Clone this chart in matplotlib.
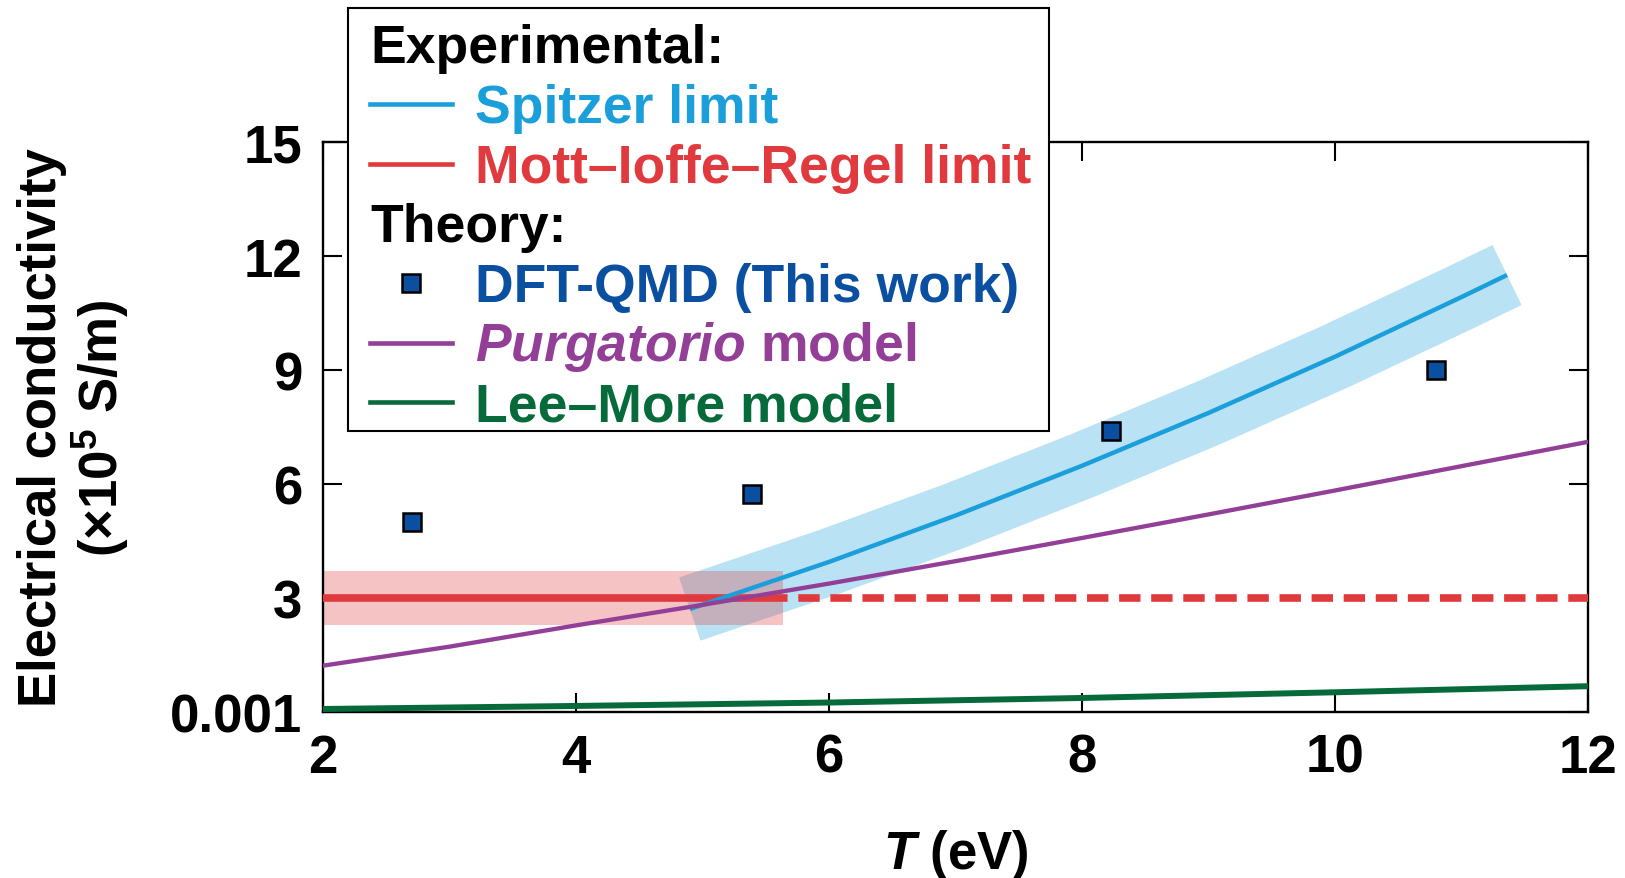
import matplotlib
matplotlib.use("Agg")
import matplotlib.pyplot as plt
from matplotlib.lines import Line2D
from matplotlib.patches import Rectangle

# Conductivity data, sigma in units of 1e5 S/m, T in eV
dft_T = [2.70, 5.39, 8.23, 10.80]
dft_sigma = [4.99, 5.74, 7.39, 9.01]

spitzer_T = [4.90, 6.0, 7.0, 8.0, 9.0, 10.0, 11.0, 11.36]
spitzer_sigma = [2.71, 3.95, 5.17, 6.48, 7.87, 9.35, 10.92, 11.5]

mir_sigma = 3.0
mir_lo, mir_hi = 2.3, 3.7
mir_T_meas = [2.0, 5.64]
mir_T_ext = [5.64, 12.0]

purg_T = [2, 3, 4, 5, 6, 7, 8, 9, 10, 11, 12]
purg_sigma = [1.22, 1.72, 2.28, 2.82, 3.38, 3.97, 4.58, 5.20, 5.83, 6.47, 7.11]

lee_T = [2, 4, 6, 8, 10, 12]
lee_sigma = [0.08, 0.16, 0.25, 0.37, 0.52, 0.68]

yticks = [0.001, 3, 6, 9, 12, 15]
ytick_labels = ["0.001", "3", "6", "9", "12", "15"]
xticks = [2, 4, 6, 8, 10, 12]

c_spitzer = "#1a9fdb"
c_mir = "#e03a3e"
c_dft = "#0a4fa0"
c_purg = "#933f97"
c_lee = "#066a3b"

plt.rcParams["font.family"] = ["Liberation Sans", "DejaVu Sans"]
plt.rcParams["font.weight"] = "bold"
plt.rcParams["axes.labelweight"] = "bold"
plt.rcParams["mathtext.fontset"] = "custom"
plt.rcParams["mathtext.rm"] = "Liberation Sans:bold"
plt.rcParams["mathtext.it"] = "Liberation Sans:italic:bold"
plt.rcParams["mathtext.bf"] = "Liberation Sans:bold"

W, H = 1625, 879
fig = plt.figure(figsize=(W / 100, H / 100), dpi=100)
ax = fig.add_axes([323 / W, 1 - 713 / H, 1265 / W, 570 / H])

# uncertainty bands
ax.plot(spitzer_T, spitzer_sigma, color=c_spitzer, lw=48, alpha=0.3,
        solid_capstyle="butt", solid_joinstyle="round", zorder=1)
ax.fill_between(mir_T_meas, mir_lo, mir_hi, color=c_mir, alpha=0.3, lw=0, zorder=2)

# Mott-Ioffe-Regel limit: measured range solid, extrapolation dashed
ax.plot(mir_T_meas, [mir_sigma] * 2, color=c_mir, lw=5.5, solid_capstyle="butt", zorder=3)
ax.plot(mir_T_ext, [mir_sigma] * 2, color=c_mir, lw=5.5, ls=(2.2, (2.8, 1.4)),
        dash_capstyle="butt", zorder=3)

ax.plot(spitzer_T, spitzer_sigma, color=c_spitzer, lw=3.2, solid_capstyle="butt", zorder=4)
ax.plot(purg_T, purg_sigma, color=c_purg, lw=3.1, zorder=5)
ax.plot(lee_T, lee_sigma, color=c_lee, lw=4.3, zorder=5)
ax.plot(dft_T, dft_sigma, "s", ms=13.5, mfc=c_dft, mec="black", mew=1.8, zorder=6)

ax.set_xlim(2, 12)
ax.set_ylim(0.001, 15)
ax.set_xticks(xticks)
ax.set_yticks(yticks, ytick_labels)
ax.tick_params(direction="in", length=13.5, width=1.5, top=True, right=True, labelsize=38)
ax.tick_params(axis="x", pad=15)
ax.tick_params(axis="y", pad=15)
for s in ax.spines.values():
    s.set_linewidth(1.7)

ax.set_xlabel("$\\mathit{T}$ (eV)", fontsize=38)
ax.xaxis.set_label_coords(0.5, (713 - 855) / 570)
ax.xaxis.label.set_va("center")
ax.set_ylabel("Electrical conductivity\n(\u00d710$^{5}$ S/m)", fontsize=38, linespacing=1.05)
ax.yaxis.set_label_coords((74 - 323) / 1265, 0.5)
ax.yaxis.label.set_va("center")

# legend box drawn by hand so the section headers can sit flush left
def fx(px):
    return px / W

def fy(py):
    return 1 - py / H

fig.add_artist(Rectangle((fx(348), fy(432)), fx(1049) - fx(348), fy(9) - fy(432),
                         transform=fig.transFigure, facecolor="white",
                         edgecolor="black", lw=1.5, zorder=10))

rows = [
    ("header", "Experimental:", "black"),
    ("line", "Spitzer limit", c_spitzer),
    ("line", "Mott\u2013Ioffe\u2013Regel limit", c_mir),
    ("header", "Theory:", "black"),
    ("marker", "DFT-QMD (This work)", c_dft),
    ("line", "$\\mathit{Purgatorio}$ model", c_purg),
    ("line", "Lee\u2013More model", c_lee),
]
for i, (kind, label, color) in enumerate(rows):
    yc = 45.7 + 59.6 * i
    base = yc + 17.8
    if kind == "header":
        fig.text(fx(370), fy(base), label, color=color, fontsize=38.5,
                 va="baseline", ha="left", zorder=11)
        continue
    if kind == "line":
        fig.add_artist(Line2D([fx(370), fx(452)], [fy(yc), fy(yc)], color=color,
                              lw=3.3, transform=fig.transFigure, zorder=11))
    else:
        fig.add_artist(Line2D([fx(411)], [fy(yc)], marker="s", ms=13.5, mfc=color,
                              mec="black", mew=1.8, transform=fig.transFigure, zorder=11))
    fig.text(fx(475), fy(base), label, color=color, fontsize=38.5,
             va="baseline", ha="left", zorder=11)

fig.savefig("out.png", dpi=100)
